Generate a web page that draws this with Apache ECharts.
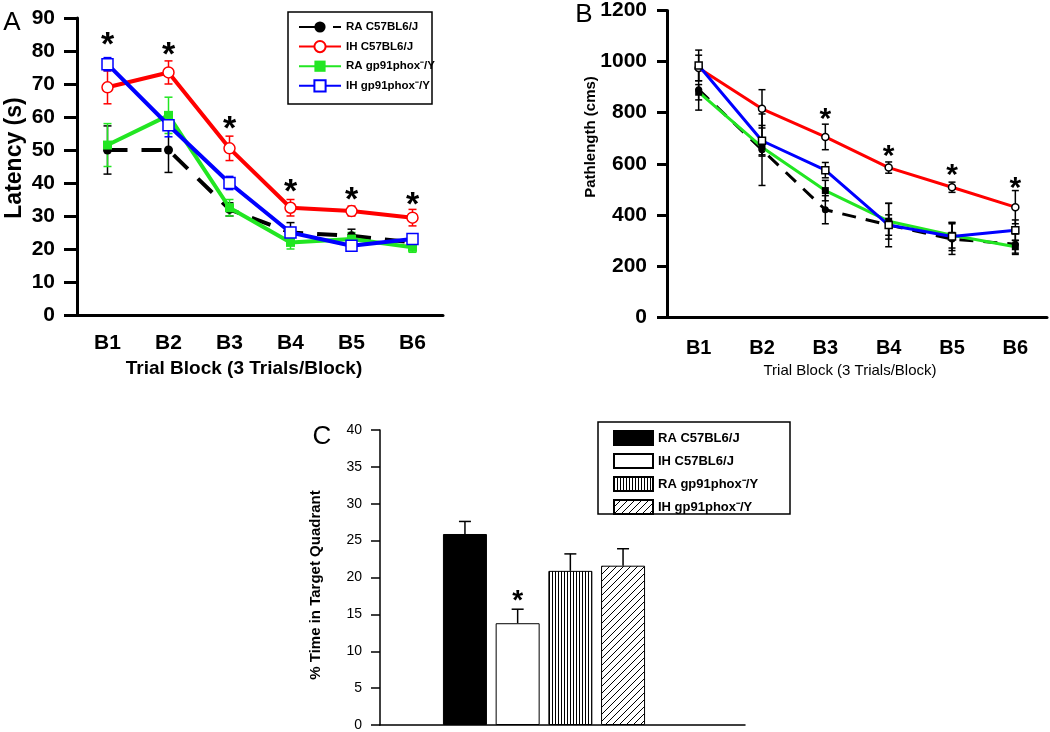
<!DOCTYPE html>
<html>
<head>
  <meta charset="utf-8">
  <script src="https://cdn.jsdelivr.net/npm/echarts@6/dist/echarts.min.js"></script>
  <style>
    body { margin: 0; background: #fff; }
    #chart { width: 1050px; height: 732px; }
  </style>
</head>
<body>
  <div id="chart"></div>
  <script>
    // categories and groups
    const blocks = ['B1', 'B2', 'B3', 'B4', 'B5', 'B6']
    const groups = ['RA C57BL6/J', 'IH C57BL6/J', 'RA gp91phox\u207B/Y', 'IH gp91phox\u207B/Y']

    // panel A: latency (s), means and SEM, order = groups
    const latRaC57 = [50, 50, 32, 25, 24, 22]
    const latIhC57 = [69, 73.5, 50.5, 32.5, 31.5, 29.5]
    const latRaGp = [51.5, 60.5, 32.5, 22, 23, 20.5]
    const latIhGp = [76, 57.5, 40, 25, 21, 23]
    const latRaC57Err = [7.3, 6.8, 2, 3, 2, 1]
    const latIhC57Err = [5, 3.5, 3.7, 2.5, 1.5, 2.5]
    const latRaGpErr = [6.5, 5.5, 2.5, 2, 2, 1.5]
    const latIhGpErr = [2, 3.5, 2, 1.5, 1, 1.2]
    const latStars = [84, 81, 58.5, 39.5, 37, 35.6]

    // panel B: pathlength (cms)
    const pathRaC57 = [890, 655, 420, 360, 305, 285]
    const pathIhC57 = [975, 815, 705, 585, 508, 430]
    const pathRaGp = [880, 665, 495, 375, 320, 275]
    const pathIhGp = [985, 690, 575, 360, 315, 340]
    const pathRaC57Err = [80, 140, 55, 85, 60, 40]
    const pathIhC57Err = [50, 75, 50, 22, 20, 65]
    const pathRaGpErr = [30, 30, 40, 70, 50, 25]
    const pathIhGpErr = [60, 60, 30, 40, 55, 40]
    const pathStarBlocks = [2, 3, 4, 5]
    const pathStars = [800, 655, 582, 530]

    // panel C: % time in target quadrant
    const quadMeans = [25.9, 13.8, 20.9, 21.6]
    const quadErr = [1.7, 1.9, 2.3, 2.3]
    const quadStarBar = 1
    const quadStar = 17.6

    const font = '"Liberation Sans", Arial, sans-serif'
    const colors = ['#000000', '#ff0000', '#22e622', '#0000ff']
    const symbols = ['circle', 'circle', 'rect', 'rect']
    const openMark = [false, true, false, true]

    function makePattern(w, h, draw) {
      const c = document.createElement('canvas')
      c.width = w
      c.height = h
      const ctx = c.getContext('2d')
      ctx.fillStyle = '#fff'
      ctx.fillRect(0, 0, w, h)
      ctx.fillStyle = '#000'
      ctx.strokeStyle = '#000'
      draw(ctx)
      return { image: c, repeat: 'repeat' }
    }
    const stripes = makePattern(3, 3, ctx => ctx.fillRect(0, 0, 1, 3))
    const hatch = makePattern(7, 7, ctx => {
      ctx.lineWidth = 1
      ctx.beginPath()
      ctx.moveTo(0, 7); ctx.lineTo(7, 0)
      ctx.moveTo(-1, 1); ctx.lineTo(1, -1)
      ctx.moveTo(6, 8); ctx.lineTo(8, 6)
      ctx.stroke()
    })
    const barFills = ['#000', '#fff', stripes, hatch]

    function errSeries(axis, means, errs, color, capW, upOnly) {
      return {
        type: 'custom',
        xAxisIndex: axis,
        yAxisIndex: axis,
        silent: true,
        z: 2,
        data: means.map((m, i) => [i, upOnly ? m : m - errs[i], m + errs[i]]),
        renderItem: (params, api) => {
          const top = api.coord([api.value(0), api.value(2)])
          const bot = api.coord([api.value(0), api.value(1)])
          const h = capW / 2
          const style = { stroke: color, lineWidth: 1.5 }
          const kids = [
            { type: 'line', shape: { x1: top[0], y1: top[1], x2: bot[0], y2: bot[1] }, style },
            { type: 'line', shape: { x1: top[0] - h, y1: top[1], x2: top[0] + h, y2: top[1] }, style }
          ]
          if (!upOnly) kids.push({ type: 'line', shape: { x1: bot[0] - h, y1: bot[1], x2: bot[0] + h, y2: bot[1] }, style })
          return { type: 'group', children: kids }
        }
      }
    }

    function starSeries(axis, xs, ys, size) {
      return {
        type: 'custom',
        xAxisIndex: axis,
        yAxisIndex: axis,
        silent: true,
        z: 6,
        data: xs.map((x, i) => [x, ys[i]]),
        renderItem: (params, api) => {
          const p = api.coord([api.value(0), api.value(1)])
          return {
            type: 'text',
            x: p[0],
            y: p[1] + size * 0.23,
            style: {
              text: '*', font: 'bold ' + size + 'px ' + font, fill: '#000',
              align: 'center', verticalAlign: 'middle', textAlign: 'center', textVerticalAlign: 'middle'
            }
          }
        }
      }
    }

    function lineSeries(name, axis, data, i, markSize, lineW, markBlack, dash) {
      const c = colors[i]
      const mc = markBlack ? '#000' : c
      return {
        type: 'line',
        name: name,
        xAxisIndex: axis,
        yAxisIndex: axis,
        data: data,
        symbol: symbols[i],
        symbolSize: markSize,
        z: 3 + i,
        lineStyle: { color: c, width: lineW, type: i === 0 ? dash : 'solid' },
        itemStyle: { color: openMark[i] ? '#fff' : mc, borderColor: mc, borderWidth: openMark[i] ? 1.5 : 0 }
      }
    }

    const latMeans = [latRaC57, latIhC57, latRaGp, latIhGp]
    const latErrs = [latRaC57Err, latIhC57Err, latRaGpErr, latIhGpErr]
    const pathMeans = [pathRaC57, pathIhC57, pathRaGp, pathIhGp]
    const pathErrs = [pathRaC57Err, pathIhC57Err, pathRaGpErr, pathIhGpErr]

    const series = []
    groups.forEach((g, i) => {
      series.push(errSeries(0, latMeans[i], latErrs[i], colors[i], 8, false))
      series.push(lineSeries(g, 0, latMeans[i], i, openMark[i] ? 11 : 9, 4, false, [20, 14]))
    })
    groups.forEach((g, i) => {
      series.push(errSeries(1, pathMeans[i], pathErrs[i], '#000', 7, false))
      series.push(lineSeries('B ' + g, 1, pathMeans[i], i, 7, 3, true, [14, 10]))
    })
    groups.forEach((g, i) => {
      series.push({
        type: 'bar',
        name: g + ' ',
        xAxisIndex: 3,
        yAxisIndex: 3,
        barWidth: 44,
        barGap: '-100%',
        data: quadMeans.map((v, j) => (j === i ? v : '-')),
        itemStyle: { color: barFills[i], borderColor: '#000', borderWidth: 1 }
      })
    })
    series.push(errSeries(3, quadMeans, quadErr, '#000', 12, true))
    series.push(starSeries(0, blocks.map((b, i) => i), latStars, 34))
    series.push(starSeries(1, pathStarBlocks, pathStars, 30))
    series.push(starSeries(3, [quadStarBar], [quadStar], 28))

    function catAxis(grid, data, lineW, labelSize, margin) {
      return {
        gridIndex: grid,
        type: 'category',
        data: data,
        boundaryGap: true,
        axisLine: { lineStyle: { color: '#000', width: lineW } },
        axisTick: { alignWithLabel: true, length: 10, lineStyle: { color: '#000', width: lineW } },
        axisLabel: { color: '#000', fontWeight: 'bold', fontSize: labelSize, margin: margin, fontFamily: font },
        splitLine: { show: false }
      }
    }
    function valAxis(grid, max, step, lineW, tickLen, labelSize, bold, margin) {
      return {
        gridIndex: grid,
        type: 'value',
        min: 0,
        max: max,
        interval: step,
        axisLine: { show: true, lineStyle: { color: '#000', width: lineW } },
        axisTick: { show: true, length: tickLen, lineStyle: { color: '#000', width: lineW } },
        axisLabel: {
          color: '#000', fontWeight: bold ? 'bold' : 'normal', fontSize: labelSize, margin: margin, fontFamily: font,
          formatter: v => String(v)
        },
        splitLine: { show: false }
      }
    }

    function txt(text, x, y, size, weight, rot) {
      return {
        type: 'text', x: x, y: y, rotation: rot || 0, silent: true,
        style: {
          text: text, font: weight + ' ' + size + 'px ' + font, fill: '#000',
          align: 'center', verticalAlign: 'middle', textAlign: 'center', textVerticalAlign: 'middle'
        }
      }
    }
    function box(x, y, w, h) {
      return { type: 'rect', silent: true, shape: { x: x, y: y, width: w, height: h }, style: { fill: 'none', stroke: '#000', lineWidth: 1.5 } }
    }

    const option = {
      animation: false,
      backgroundColor: '#fff',
      textStyle: { fontFamily: font },
      grid: [
        { left: 77, top: 18, width: 366, height: 297 },
        { left: 667, top: 10, width: 380, height: 307 },
        { left: 380, top: 430, width: 365, height: 295 },
        { left: 438.6, top: 430, width: 210.8, height: 295 }
      ],
      xAxis: [
        catAxis(0, blocks, 3, 21, 18),
        catAxis(1, blocks, 3, 20, 21),
        { gridIndex: 2, type: 'category', data: [''], axisLine: { lineStyle: { color: '#000', width: 1.5 } }, axisTick: { show: false }, axisLabel: { show: false } },
        { gridIndex: 3, type: 'category', data: groups, show: false }
      ],
      yAxis: [
        valAxis(0, 90, 10, 3, 13, 21, true, 22),
        valAxis(1, 1200, 200, 3, 10, 21, true, 20),
        valAxis(2, 40, 5, 1.5, 9, 14, false, 18),
        { gridIndex: 3, type: 'value', min: 0, max: 40, show: false }
      ],
      legend: [
        {
          data: groups, left: 298, top: 21, orient: 'vertical', padding: 0,
          itemWidth: 42, itemHeight: 14, itemGap: 7, selectedMode: false,
          textStyle: { fontWeight: 'bold', fontSize: 11.5, color: '#000', fontFamily: font }
        },
        {
          data: groups.map(g => g + ' '), left: 613, top: 430, orient: 'vertical', padding: 0,
          itemWidth: 39, itemHeight: 14, itemGap: 7, icon: 'rect', selectedMode: false,
          textStyle: { fontWeight: 'bold', fontSize: 13, color: '#000', fontFamily: font }
        }
      ],
      graphic: [
        box(288, 12, 144, 92),
        box(598, 422, 192, 92),
        txt('A', 12, 23, 26, 'normal'),
        txt('B', 584, 15, 26, 'normal'),
        txt('C', 322, 437, 26, 'normal'),
        txt('Latency (s)', 15, 158, 23, 'bold', Math.PI / 2),
        txt('Trial Block (3 Trials/Block)', 244, 369, 19, 'bold'),
        txt('Pathlength (cms)', 591, 137, 15, 'bold', Math.PI / 2),
        txt('Trial Block (3 Trials/Block)', 850, 371, 15, 'normal'),
        txt('% Time in Target Quadrant', 316, 585, 15, 'bold', Math.PI / 2)
      ],
      series: series
    }

    const chart = echarts.init(document.getElementById('chart'))
    chart.setOption(option)
  </script>
</body>
</html>
